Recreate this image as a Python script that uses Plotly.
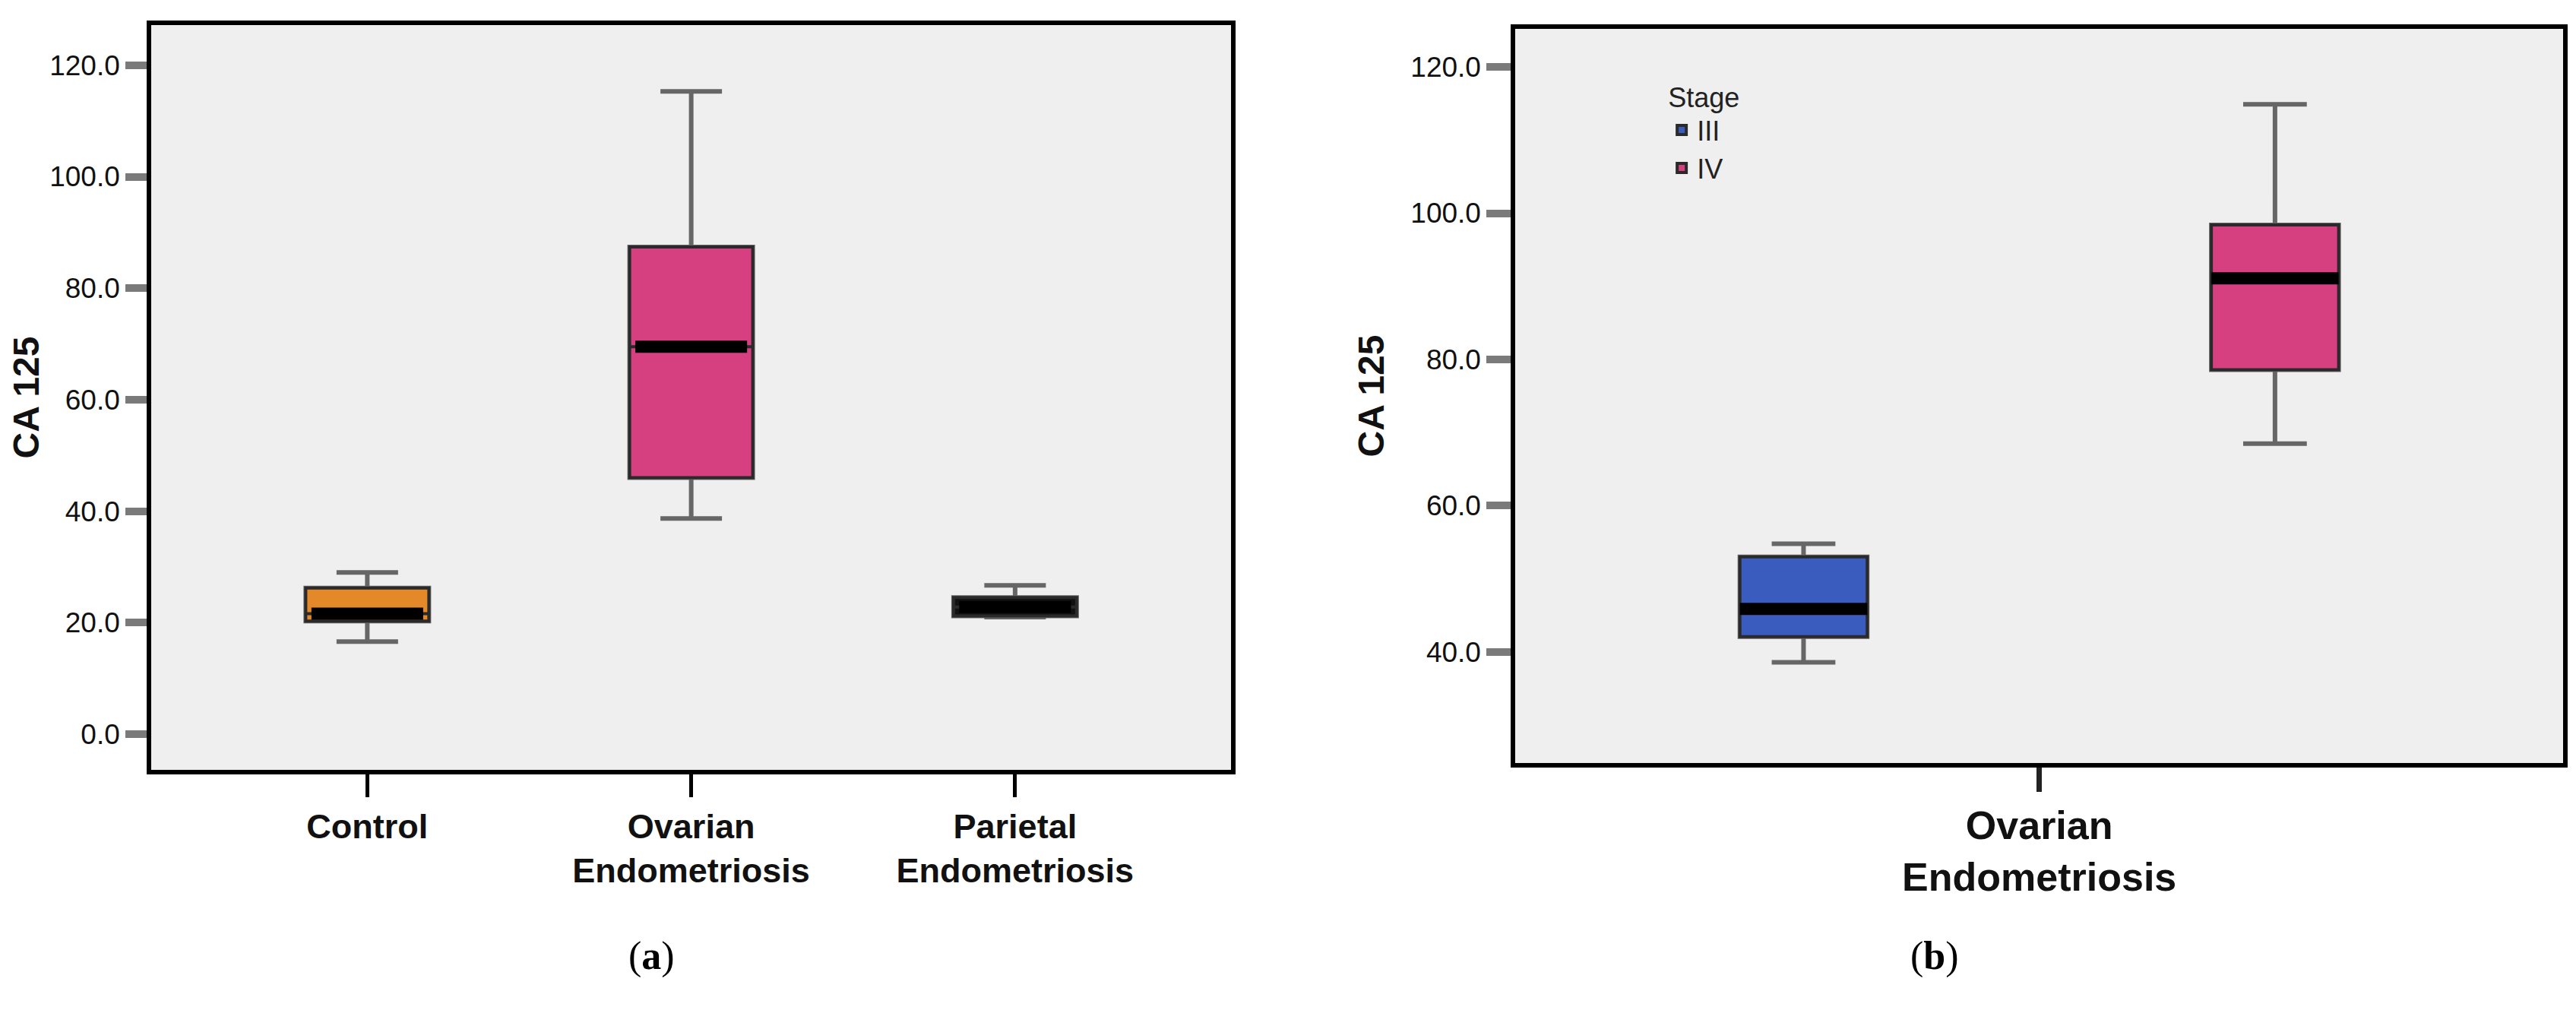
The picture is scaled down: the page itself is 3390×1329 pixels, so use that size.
import plotly.graph_objects as go

# ---------------- data: panel (a) ----------------
groups_a = ["Control", "Ovarian<br>Endometriosis", "Parietal<br>Endometriosis"]
lower_a = [16.6, 38.7, 21.0]
q1_a = [20.3, 46.0, 21.2]
median_a = [21.6, 69.5, 22.8]
q3_a = [26.2, 87.4, 24.5]
upper_a = [29.0, 115.3, 26.7]
fill_a = ["#e3892a", "#d63f80", "#111111"]

# ---------------- data: panel (b) ----------------
group_b = "Ovarian<br>Endometriosis"
stages = ["III", "IV"]
lower_b = [38.6, 68.5]
q1_b = [42.1, 78.6]
median_b = [45.9, 91.1]
q3_b = [53.0, 98.4]
upper_b = [54.8, 114.9]
fill_b = ["#3a5cbf", "#d63f80"]

yticks_a = [0, 20, 40, 60, 80, 100, 120]
yticks_b = [40, 60, 80, 100, 120]

NARROW = "Liberation Sans Narrow, Arial Narrow, Liberation Sans, sans-serif"
SANS = "Liberation Sans, Arial, DejaVu Sans, sans-serif"
SERIF = "Liberation Serif, Times New Roman, DejaVu Serif, serif"

WHISKER = "#666666"
OUTLINE = "#2a2a2a"
BOXW_A = 0.38

fig = go.Figure()


def add_box(x, lo, q1, med, q3, hi, fill, xa, ya, width=None, og=None, name=None, legend=False):
    common = dict(x=[x], xaxis=xa, yaxis=ya, boxpoints=False, hoverinfo="skip")
    if width is not None:
        common["width"] = width
    if og is not None:
        common["offsetgroup"] = og
    # whiskers
    fig.add_trace(go.Box(q1=[q1], median=[med], q3=[q3], lowerfence=[lo], upperfence=[hi],
                         line=dict(color=WHISKER, width=6), fillcolor="rgba(0,0,0,0)",
                         whiskerwidth=0.5, showlegend=False, **common))
    # box body
    fig.add_trace(go.Box(q1=[q1], median=[med], q3=[q3], lowerfence=[q1], upperfence=[q3],
                         line=dict(color=OUTLINE, width=4), fillcolor=fill,
                         whiskerwidth=0, showlegend=legend, name=name or x, **common))
    # thick median
    common_m = dict(common)
    if width is not None:
        common_m["width"] = width - 0.035
    fig.add_trace(go.Box(q1=[med], median=[med], q3=[med], lowerfence=[med], upperfence=[med],
                         line=dict(color="#000000", width=16), fillcolor="#000000",
                         whiskerwidth=0, showlegend=False, **common_m))


for i, g in enumerate(groups_a):
    add_box(g, lower_a[i], q1_a[i], median_a[i], q3_a[i], upper_a[i], fill_a[i],
            "x", "y", width=BOXW_A)

for i, s in enumerate(stages):
    add_box(group_b, lower_b[i], q1_b[i], median_b[i], q3_b[i], upper_b[i], fill_b[i],
            "x2", "y2", og=s, name=s, legend=True)

frame = dict(showline=True, mirror=True, linecolor="#000000", linewidth=6,
             showgrid=False, zeroline=False)

tickfont_y = dict(family=NARROW, size=37, color="#111111")

fig.update_layout(
    width=3390, height=1329,
    margin=dict(l=0, r=0, t=0, b=0),
    paper_bgcolor="#ffffff", plot_bgcolor="#efefef",
    boxmode="group", boxgap=0.1, boxgroupgap=0.73,
    showlegend=True,
    legend=dict(x=0.643, y=0.935, xanchor="left", yanchor="top",
                bgcolor="rgba(0,0,0,0)",
                font=dict(family=NARROW, size=36, color="#222222"),
                title=dict(text="Stage", font=dict(family=NARROW, size=36, color="#222222")),
                tracegroupgap=0),
    xaxis=dict(domain=[0.0522, 0.4732], type="category",
               range=[-0.6667, 2.6667],
               ticks="outside", ticklen=30, tickwidth=5, tickcolor="#000000",
               tickfont=dict(family=NARROW, size=45, color="#111111", weight="bold"),
               **frame),
    yaxis=dict(domain=[0.2438, 0.9812], range=[-6.4, 127.2],
               tickvals=yticks_a, tickformat=".1f",
               ticks="outside", ticklen=28, tickwidth=10, tickcolor="#7a7a7a",
               tickfont=tickfont_y,
               title=dict(text="<b>CA 125</b>", standoff=24,
                          font=dict(family=SANS, size=48, color="#111111")),
               **frame),
    xaxis2=dict(domain=[0.5841, 0.9926], type="category", anchor="y2",
                range=[-0.5, 0.5],
                ticks="outside", ticklen=32, tickwidth=7, tickcolor="#222222",
                tickfont=dict(family=SANS, size=52, color="#111111", weight="bold"),
                **frame),
    yaxis2=dict(domain=[0.2506, 0.9774], range=[24.83, 125.2], anchor="x2",
                tickvals=yticks_b, tickformat=".1f",
                ticks="outside", ticklen=32, tickwidth=10, tickcolor="#7a7a7a",
                tickfont=tickfont_y,
                title=dict(text="<b>CA 125</b>", standoff=22,
                           font=dict(family=SANS, size=48, color="#111111")),
                **frame),
    annotations=[
        dict(text="(<b>a</b>)", x=0.2375, y=0.036, xref="paper", yref="paper",
             showarrow=False, font=dict(family=SERIF, size=52, color="#000000")),
        dict(text="(<b>b</b>)", x=0.7575, y=0.036, xref="paper", yref="paper",
             showarrow=False, font=dict(family=SERIF, size=52, color="#000000")),
    ],
)

fig.write_html("out.html")
